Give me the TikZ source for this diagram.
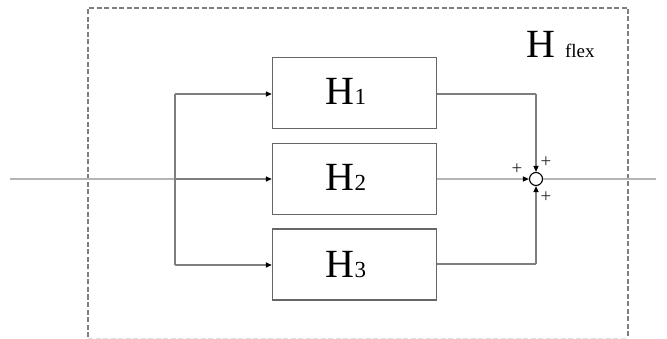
\documentclass[tikz,border=0pt]{standalone}
\usepackage{fontspec}
\setmainfont{Liberation Serif}
\usetikzlibrary{arrows.meta}
\definecolor{linegray}{HTML}{7E7E7E}
\definecolor{boxgray}{HTML}{666666}
\definecolor{lightline}{HTML}{B5B5B5}
\tikzset{
  blk/.style={draw=boxgray, line width=1.3pt, minimum width=164pt, minimum height=71pt, inner sep=0pt, fill=white},
  wire/.style={draw=linegray, line width=1.2pt},
  arr/.style={wire, -{Stealth[length=6pt,width=5pt,inset=0pt,color=black]}},
  lbl/.style={font=\fontsize{40}{40}\selectfont},
  plus/.style={font=\fontsize{19}{19}\selectfont, inner sep=0pt, text=black!85}
}
\begin{document}
\begin{tikzpicture}[x=1pt,y=-1pt]
\useasboundingbox (0,0) rectangle (667,339);
% outer dashed frame
\draw[linegray, line width=1.2pt, dash pattern=on 5pt off 2.5pt] (88,337) -- (88,8) -- (628,8) -- (628,337);
\draw[black!12, line width=0.6pt, dash pattern=on 5pt off 2.5pt] (88,338) -- (628,338);
% main line
\coordinate (in) at (10,179);
\coordinate (out) at (656,179);
\coordinate (split) at (175,179);
\draw[lightline, line width=1.4pt] (in) -- (split);
% blocks
\node[blk] (h1) at (354.5,93) {};
\node[blk] (h2) at (354.5,179) {};
\node[blk] (h3) at (354.5,264.5) {};
\node[lbl, anchor=base] (t1) at (346,105) {H{\fontsize{23}{23}\selectfont 1}};
\node[lbl, anchor=base] (t2) at (346,191) {H{\fontsize{23}{23}\selectfont 2}};
\node[lbl, anchor=base] (t3) at (346,277) {H{\fontsize{23}{23}\selectfont 3}};
% summing junction
\node[circle, draw=black, line width=1.1pt, minimum size=13pt, inner sep=0pt, fill=white] (sum) at (536,179) {};
% split
\coordinate (s1) at (175,94);
\coordinate (s3) at (175,265);
\draw[wire] (s1) -- (s3);
\draw[arr] (s1) -- (h1.west |- s1);
\draw[arr] (split) -- (h2.west);
\draw[arr] (s3) -- (h3.west |- s3);
% outputs
\coordinate (c1) at (536,94);
\coordinate (c3) at (536,264);
\draw[wire] (h1.east |- c1) -- (c1);
\draw[arr] (c1) -- (sum.north);
\draw[wire] (h3.east |- c3) -- (c3);
\draw[arr] (c3) -- (sum.south);
\draw[arr, draw=lightline] (h2.east) -- (sum.west);
\draw[lightline, line width=1.4pt] (sum.east) -- (out);
% plus signs
\node[plus] (p1) at (517,169) {+};
\node[plus] (p2) at (546,162) {+};
\node[plus] (p3) at (546,197) {+};
% H flex label
\node[lbl, anchor=base west, inner sep=0pt] (hflex) at (526,58) {H {\fontsize{19}{19}\selectfont flex}};
\end{tikzpicture}
\end{document}
